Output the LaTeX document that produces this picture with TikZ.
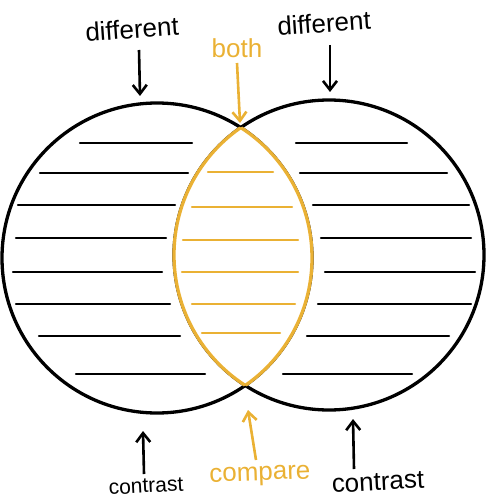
\documentclass[tikz,border=0pt]{standalone}
\usepackage{fontspec}
\setmainfont{Liberation Sans}
\usetikzlibrary{arrows.meta}
\definecolor{gold}{RGB}{234,177,52}
\tikzset{
  ring/.style={line width=3.3pt, black},
  lensline/.style={line width=3.3pt, gold},
  rule/.style={line width=2.3pt, black, line cap=round},
  grule/.style={line width=2.3pt, gold, line cap=round},
  lbl/.style={font=\fontsize{26}{28}\selectfont, inner sep=1pt},
  glbl/.style={lbl, text=gold},
  pointer/.style={line width=2.6pt, -{Straight Barb[length=9pt,width=14pt,line width=2.6pt]}},
}
\begin{document}
\begin{tikzpicture}[x=1pt,y=-1pt]
\useasboundingbox (0,0) rectangle (486,500);
% circles
\draw[ring] (157,258) circle (155pt);
\draw[ring] (329,255) circle (155pt);
% lens
\begin{scope}
  \clip (329,255) circle (155pt);
  \fill[white] (157,258) circle (155pt);
  \draw[lensline] (157,258) circle (155pt);
\end{scope}
\begin{scope}
  \clip (157,258) circle (155pt);
  \draw[lensline] (329,255) circle (155pt);
\end{scope}
% left lines
\draw[rule] (80,143) -- (192,143);
\draw[rule] (40,173) -- (188,173);
\draw[rule] (18,205) -- (175,205);
\draw[rule] (16,238) -- (166,238);
\draw[rule] (13,272) -- (162,272);
\draw[rule] (16,304) -- (170,304);
\draw[rule] (39,336) -- (180,336);
\draw[rule] (76,374) -- (205,374);
% right lines
\draw[rule] (296,143) -- (407,143);
\draw[rule] (300,173) -- (447,173);
\draw[rule] (313,205) -- (469,205);
\draw[rule] (321,238) -- (471,238);
\draw[rule] (325,272) -- (475,272);
\draw[rule] (318,304) -- (471,304);
\draw[rule] (307,336) -- (449,336);
\draw[rule] (283,374) -- (412,374);
% yellow lines
\draw[grule] (208,172) -- (273,172);
\draw[grule] (192,207) -- (292,207);
\draw[grule] (183,240) -- (298,240);
\draw[grule] (182,272) -- (298,272);
\draw[grule] (192,304) -- (295,304);
\draw[grule] (202,333) -- (280,333);
% labels
\node[lbl, rotate=4] (d1) at (132,29) {different};
\node[lbl, rotate=4] (d2) at (324,23) {different};
\node[glbl] (b) at (237,48) {both};
\node[lbl, rotate=3, font=\fontsize{21}{24}\selectfont] (c1) at (146,486) {contrast};
\node[glbl, rotate=2] (cp) at (260,476) {compare};
\node[lbl, rotate=3] (c2) at (378,482) {contrast};
% arrow ends
\coordinate (s1) at (139,50);  \coordinate (t1) at (140,96);
\coordinate (s2) at (330,45);  \coordinate (t2) at (330,92);
\coordinate (sb) at (237,63);  \coordinate (tb) at (240,123);
\coordinate (v1) at (144,474); \coordinate (u1) at (143,431);
\coordinate (vcp) at (256,460);\coordinate (ucp) at (248,410);
\coordinate (v2) at (354,469); \coordinate (u2) at (353,419);
\draw[pointer] (s1) -- (t1);
\draw[pointer] (s2) -- (t2);
\draw[pointer, gold] (sb) -- (tb);
\draw[pointer] (v1) -- (u1);
\draw[pointer, gold] (vcp) -- (ucp);
\draw[pointer] (v2) -- (u2);
\end{tikzpicture}
\end{document}
